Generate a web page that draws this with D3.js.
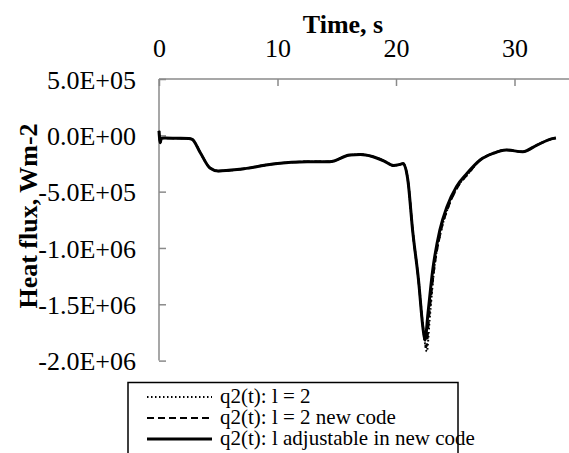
<!DOCTYPE html>
<html><head><meta charset="utf-8">
<script src="https://cdn.jsdelivr.net/npm/d3@7"></script>
<style>
html,body{margin:0;padding:0;background:#fff;}
svg{display:block;}
svg text{font-family:"Liberation Serif","Times New Roman",serif !important;}
</style></head>
<body>
<svg id="chart" width="569" height="453"></svg>
<script>
// Time (s)
const timeSolid = [0, 0.1, 0.2, 0.5, 1.5, 2.5, 2.8, 3.5, 4.3, 5.0, 6.8, 9.6, 12.5, 14.4, 16.1, 17.0, 18.0, 19.0, 19.8, 20.3, 20.6, 21.0, 21.4, 21.9, 22.3, 22.45, 22.7, 23.1, 23.7, 24.3, 25.1, 26.0, 27.1, 28.2, 29.3, 30.7, 31.9, 33.3, 33.5];
// q2(t): l adjustable in new code (W m-2)
const qAdjustable = [40000, -65000, -25000, -24000, -26000, -28000, -35000, -157000, -290000, -317000, -302000, -255000, -234000, -234000, -175000, -170000, -188000, -228000, -268000, -259000, -250000, -397000, -841000, -1285000, -1730000, -1819000, -1578000, -1196000, -841000, -634000, -456000, -337000, -219000, -160000, -130000, -146000, -86000, -27000, -24000];
// q2(t): l = 2 new code
const timeDashed = [0, 0.1, 0.2, 0.5, 1.5, 2.5, 2.8, 3.5, 4.3, 5.0, 6.8, 9.6, 12.5, 14.4, 16.1, 17.0, 18.0, 19.0, 19.8, 20.3, 20.6, 21.0, 21.4, 21.9, 22.35, 22.55, 22.8, 23.2, 23.8, 24.4, 25.2, 26.1, 27.1, 28.2, 29.3, 30.7, 31.9, 33.3, 33.5];
const qNewCode = [40000, -65000, -25000, -24000, -26000, -28000, -35000, -157000, -290000, -317000, -302000, -255000, -234000, -234000, -175000, -170000, -188000, -228000, -268000, -259000, -250000, -397000, -841000, -1285000, -1760000, -1880000, -1600000, -1200000, -845000, -640000, -460000, -340000, -219000, -160000, -130000, -146000, -86000, -27000, -24000];
// q2(t): l = 2
const timeDotted = [0, 0.1, 0.2, 0.5, 1.5, 2.5, 2.8, 3.5, 4.3, 5.0, 6.8, 9.6, 12.5, 14.4, 16.1, 17.0, 18.0, 19.0, 19.8, 20.3, 20.6, 21.0, 21.4, 21.9, 22.35, 22.6, 22.85, 23.2, 23.8, 24.4, 25.2, 26.1, 27.1, 28.2, 29.3, 30.7, 31.9, 33.3, 33.5];
const qL2 = [40000, -65000, -25000, -24000, -26000, -28000, -35000, -157000, -290000, -317000, -302000, -255000, -234000, -234000, -175000, -170000, -188000, -228000, -268000, -259000, -250000, -397000, -841000, -1285000, -1770000, -1920000, -1620000, -1210000, -850000, -640000, -460000, -340000, -219000, -160000, -130000, -146000, -86000, -27000, -24000];

const xTicks = [0, 10, 20, 30];
const yTicks = [500000, 0, -500000, -1000000, -1500000, -2000000];
const yTickLabels = ["5.0E+05", "0.0E+00", "-5.0E+05", "-1.0E+06", "-1.5E+06", "-2.0E+06"];
const legendLabels = ["q2(t): l = 2", "q2(t): l = 2 new code", "q2(t): l adjustable in new code"];

const svg = d3.select("#chart");
const L = 159, T = 79, B = 360.6;
const x = d3.scaleLinear().domain([0, 35]).range([L, L + 35 * 11.85]);
const y = d3.scaleLinear().domain([-2000000, 500000]).range([B, T]);

const axisColor = "#8a8a8a";

// top x axis
const xAxis = d3.axisTop(x).tickValues(xTicks).tickSize(-7).tickPadding(0).tickFormat(d3.format("d"));
const gx = svg.append("g").attr("transform", `translate(0,${T})`).call(xAxis);
gx.attr("font-size", null).attr("font-family", null);
gx.select(".domain").attr("stroke", axisColor).attr("stroke-width", 1.5).attr("d", `M${L},0H569`);
gx.selectAll(".tick line").attr("stroke", axisColor).attr("stroke-width", 1.5);
gx.selectAll(".tick text").attr("y", -22).style("font-size", "26px").attr("fill", "#000");

// left y axis
const yAxis = d3.axisLeft(y).tickValues(yTicks).tickSize(-7).tickPadding(0)
  .tickFormat((d, i) => yTickLabels[i]);
const gy = svg.append("g").attr("transform", `translate(${L},0)`).call(yAxis);
gy.attr("font-size", null).attr("font-family", null);
gy.select(".domain").attr("stroke", axisColor).attr("stroke-width", 1.5).attr("d", `M0,${T}V${B}`);
gy.selectAll(".tick line").attr("stroke", axisColor).attr("stroke-width", 1.5);
gy.selectAll(".tick text").attr("x", -23).attr("dy", "0.35em").style("font-size", "26px").attr("fill", "#000");

// titles
svg.append("text").attr("x", 343).attr("y", 33).attr("text-anchor", "middle")
  .style("font-size", "26px").attr("font-weight", "bold").text("Time, s");
svg.append("text").attr("transform", "translate(37,216) rotate(-90)").attr("text-anchor", "middle")
  .style("font-size", "26px").attr("font-weight", "bold").text("Heat flux, Wm-2");

// series
const line = d3.line().x(d => x(d[0])).y(d => y(d[1])).curve(d3.curveMonotoneX);
const series = [
  {t: timeDotted, v: qL2, dash: "1.5,2.5", w: 2},
  {t: timeDashed, v: qNewCode, dash: "7,4", w: 2.2},
  {t: timeSolid, v: qAdjustable, dash: null, w: 3}
];
series.forEach(s => {
  svg.append("path").datum(s.t.map((t, i) => [t, s.v[i]]))
    .attr("d", line).attr("fill", "none").attr("stroke", "#000")
    .attr("stroke-width", s.w).attr("stroke-dasharray", s.dash)
    .attr("stroke-linejoin", "round");
});

// legend
const lg = svg.append("g");
lg.append("rect").attr("x", 128).attr("y", 382.5).attr("width", 330).attr("height", 120)
  .attr("fill", "#fff").attr("stroke", "#000").attr("stroke-width", 1.5);
const legendY = [397, 418, 439];
legendLabels.forEach((lab, i) => {
  lg.append("line").attr("x1", 147).attr("x2", 212).attr("y1", legendY[i]).attr("y2", legendY[i])
    .attr("stroke", "#000").attr("stroke-width", series[i].w)
    .attr("stroke-dasharray", series[i].dash);
  lg.append("text").attr("x", 220).attr("y", legendY[i] + 6).style("font-size", "21px").text(lab);
});
</script>
</body></html>
